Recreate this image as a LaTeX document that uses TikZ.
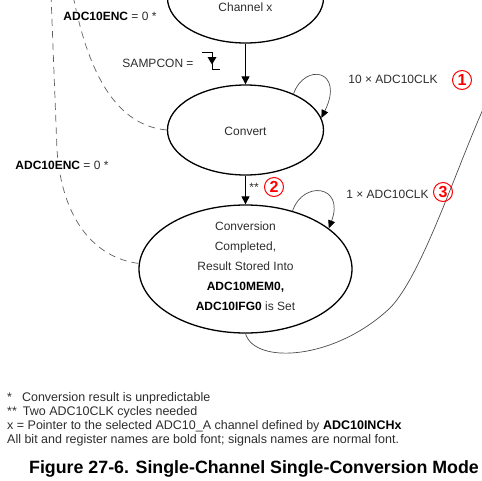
\documentclass[tikz,border=0pt]{standalone}
\usepackage{fontspec}
\setmainfont{Liberation Sans}
\usetikzlibrary{arrows.meta,shapes.geometric}
\definecolor{txtgray}{RGB}{45,45,45}
\definecolor{dashgray}{RGB}{95,95,95}
\definecolor{mred}{RGB}{255,0,0}
\begin{document}
\begin{tikzpicture}[x=1pt,y=-1pt,
  state/.style={ellipse,draw=black,line width=1.3pt,inner sep=0pt,minimum width=156pt,minimum height=90pt},
  lbl/.style={font=\fontsize{12}{14}\selectfont,text=txtgray,inner sep=1pt},
  foot/.style={font=\fontsize{12.5}{14}\selectfont,text=txtgray,inner sep=0pt,anchor=base west},
  flow/.style={draw=black,line width=0.9pt,-{Triangle[length=8pt,width=8pt]}},
  selfloop/.style={draw=black!70,line width=0.7pt,-{Triangle[length=8pt,width=7pt,color=black]}},
  dashline/.style={draw=dashgray,line width=0.7pt,dash pattern=on 7pt off 5pt},
  num/.style={circle,draw=mred,line width=1pt,text=mred,minimum size=19pt,inner sep=0pt,font=\fontsize{16}{16}\selectfont\bfseries},
]
\useasboundingbox (0,0) rectangle (482,480);
\clip (0,0) rectangle (482,480);

% states
\node[state] (chan) at (245.5,-2) {};
\node[lbl] (chantxt) at (245.5,7) {Channel x};
\node[state] (convert) at (245.5,130) {};
\node[lbl] (convtxt) at (245.5,131) {Convert};
\node[state,minimum width=213pt,minimum height=128pt] (done) at (245.5,269) {};
\node[lbl,align=center,font=\fontsize{12}{20}\selectfont] (donetxt) at (245.5,266)
  {Conversion\\Completed,\\Result Stored Into\\{\color{black}\bfseries ADC10MEM0,}\\{\color{black}\bfseries ADC10IFG0} is Set};

% main flow
\draw[flow] (chan) -- (convert);
\draw[flow] (convert) -- (done);

% self loops
\draw[selfloop] (convert.37) .. controls (305,62) and (345,70) .. (convert.9);
\draw[selfloop] (done.51) .. controls (303,180) and (345,185) .. (done.26);

% return curve to the right
\coordinate (offR) at (492,90);
\draw[draw=black!70,line width=0.7pt] (done.south) .. controls (255,365) and (335,360) .. (390,308)
   .. controls (425,272) and (462,150) .. (offR);

% dashed ADC10ENC = 0 lines
\coordinate (offA) at (72,-10);
\coordinate (offB) at (51,-5);
\draw[dashline] (convert.west) .. controls (110,125) and (85,60) .. (offA);
\draw[dashline] (offB) -- (57,150) .. controls (62,220) and (95,258) .. (done.177);

% labels
\node[lbl,fill=white] (enc1) at (110,16) {{\color{black}\bfseries ADC10ENC} = 0 *};
\node[lbl,fill=white] (enc2) at (62,165) {{\color{black}\bfseries ADC10ENC} = 0 *};
\node[lbl] (samp) at (158,63) {SAMPCON =};
\draw[black,line width=0.8pt] (202,52) -- (212,52) -- (212,69) -- (220,69);
\fill[black] (207.5,57) -- (216.5,57) -- (212,64.5) -- cycle;
\node[lbl] (clk10) at (393,79) {10 × ADC10CLK};
\node[lbl] (clk1) at (387.5,194) {1 × ADC10CLK};
\node[lbl] (star2) at (254,187) {**};
\node[num] (n1) at (462,80) {1};
\node[num] (n2) at (274,187) {2};
\node[num] (n3) at (443,192) {3};

% footnotes
\node[foot] (f1) at (7,401) {*\hspace{10pt}Conversion result is unpredictable};
\node[foot] (f2) at (7,415) {**\hspace{6pt}Two ADC10CLK cycles needed};
\node[foot] (f3) at (7,429) {x = Pointer to the selected ADC10\_A channel defined by {\color{black}\bfseries ADC10INCHx}};
\node[foot] (f4) at (7,443) {All bit and register names are bold font; signals names are normal font.};

% caption
\node[font=\fontsize{17.8}{20}\selectfont\bfseries,text=black,inner sep=0pt,anchor=base] (cap) at (254,473.5)
  {Figure 27-6. Single-Channel Single-Conversion Mode};
\end{tikzpicture}
\end{document}
